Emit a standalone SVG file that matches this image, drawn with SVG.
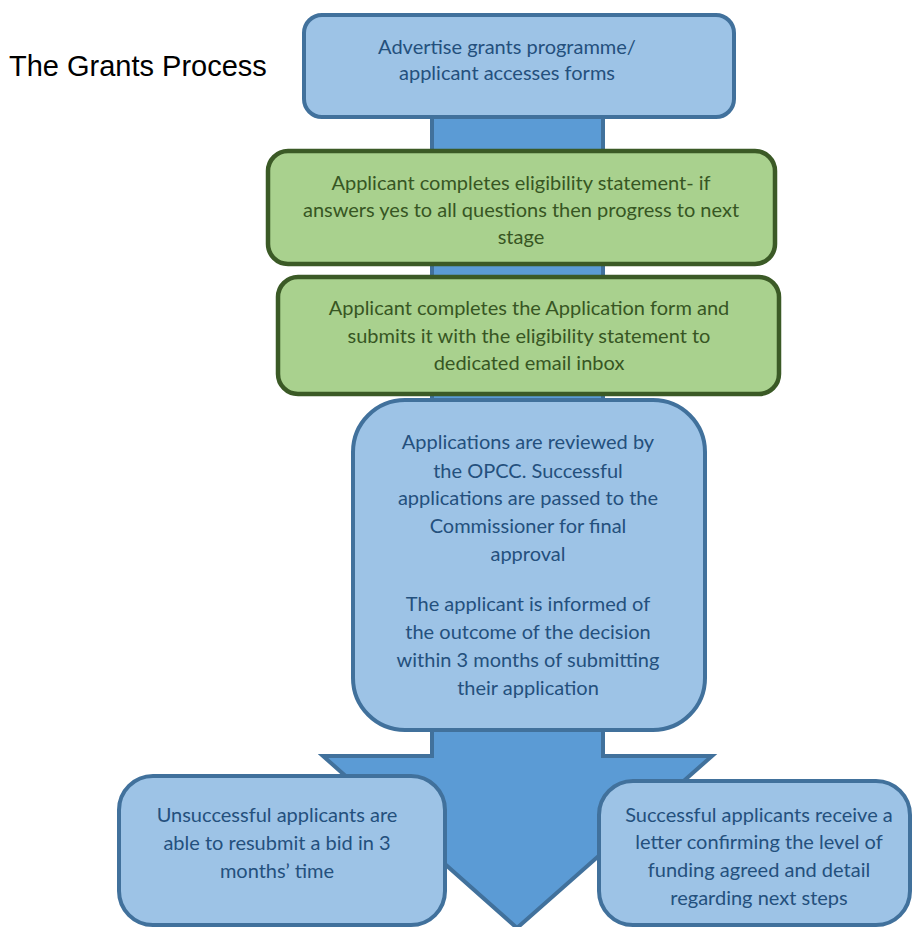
<svg xmlns="http://www.w3.org/2000/svg" width="913" height="927" viewBox="0 0 913 927">
<style>
.bb{fill:#9DC3E6;stroke:#41719C;stroke-width:4}
.gb{fill:#A9D18E;stroke:#3B5A26;stroke-width:4.5}
.bt{font-family:Lato,"Open Sans","Liberation Sans",sans-serif;font-size:20px;fill:#24507D;text-anchor:middle}
.gt{font-family:Lato,"Open Sans","Liberation Sans",sans-serif;font-size:20px;fill:#375623;text-anchor:middle}
.arrow{fill:#5B9BD5;stroke:#41719C;stroke-width:4;stroke-linejoin:miter}
</style>
<rect width="913" height="927" fill="#FFFFFF"/>
<text id="title" x="9" y="76" font-family="'Liberation Sans',Arial,sans-serif" font-size="29" fill="#000000">The Grants Process</text>
<g id="connectors">
<polygon class="arrow" points="432,100 603,100 603,756 712,756 517,928 323,756 432,756"/>
</g>
<g id="node-advertise">
<rect class="bb" x="304" y="15" width="430" height="102" rx="18"/>
<text class="bt" x="507" y="54">Advertise grants programme/</text>
<text class="bt" x="507" y="80">applicant accesses forms</text>
</g>
<g id="node-eligibility">
<rect class="gb" x="268" y="151" width="507" height="113" rx="20"/>
<text class="gt" x="521" y="190">Applicant completes eligibility statement- if</text>
<text class="gt" x="521" y="217">answers yes to all questions then progress to next</text>
<text class="gt" x="521" y="244">stage</text>
</g>
<g id="node-application">
<rect class="gb" x="278" y="277" width="501" height="117" rx="20"/>
<text class="gt" x="529" y="315">Applicant completes the Application form and</text>
<text class="gt" x="529" y="343">submits it with the eligibility statement to</text>
<text class="gt" x="529" y="370">dedicated email inbox</text>
</g>
<g id="node-review">
<rect class="bb" x="353" y="400" width="352" height="330" rx="52"/>
<text class="bt" x="528" y="449">Applications are reviewed by</text>
<text class="bt" x="528" y="478">the OPCC. Successful</text>
<text class="bt" x="528" y="505">applications are passed to the</text>
<text class="bt" x="528" y="533">Commissioner for final</text>
<text class="bt" x="528" y="561">approval</text>
<text class="bt" x="528" y="611">The applicant is informed of</text>
<text class="bt" x="528" y="639">the outcome of the decision</text>
<text class="bt" x="528" y="667">within 3 months of submitting</text>
<text class="bt" x="528" y="695">their application</text>
</g>
<g id="node-unsuccessful">
<rect class="bb" x="119" y="776" width="326" height="149" rx="34"/>
<text class="bt" x="277" y="822">Unsuccessful applicants are</text>
<text class="bt" x="277" y="850">able to resubmit a bid in 3</text>
<text class="bt" x="277" y="878">months’ time</text>
</g>
<g id="node-successful">
<rect class="bb" x="599" y="781" width="311" height="144" rx="34"/>
<text class="bt" x="759" y="822">Successful applicants receive a</text>
<text class="bt" x="759" y="849">letter confirming the level of</text>
<text class="bt" x="759" y="877">funding agreed and detail</text>
<text class="bt" x="759" y="905">regarding next steps</text>
</g>
</svg>
